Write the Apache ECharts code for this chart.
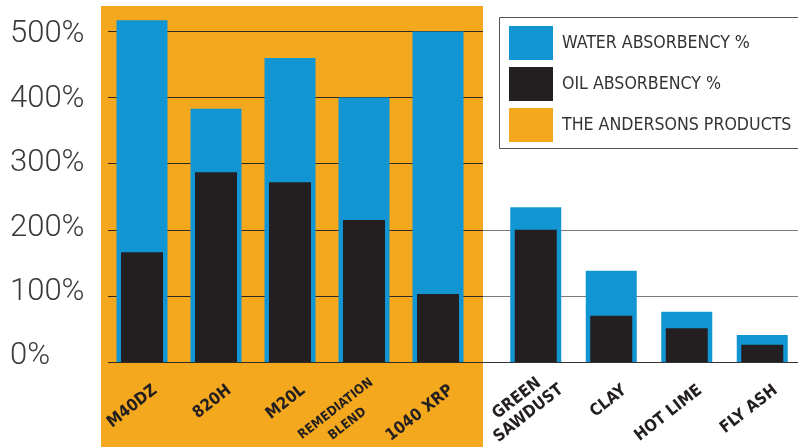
<!DOCTYPE html>
<html><head><meta charset="utf-8">
<script src="https://cdn.jsdelivr.net/npm/echarts@6/dist/echarts.min.js"></script>
<style>html,body{margin:0;padding:0;background:#fff}#c{width:798px;height:447px}</style>
</head><body><div id="c"></div>
<script>
// ---- data ----
const andersonsProducts = ['M40DZ', '820H', 'M20L', 'REMEDIATION\nBLEND', '1040 XRP'];
const otherMaterials = ['GREEN\nSAWDUST', 'CLAY', 'HOT LIME', 'FLY ASH'];
const waterAndersons = [517, 383, 460, 400, 500];
const oilAndersons = [166, 287, 272, 215, 103];
const waterOther = [234, 138, 76, 41];
const oilOther = [200, 70, 51, 26];
const yTickMax = 500;
const yTickStep = 100;
const seriesNames = ['WATER ABSORBENCY %', 'OIL ABSORBENCY %', 'THE ANDERSONS PRODUCTS'];

// ---- styles ----
const ORANGE = '#F4A81E', BLUE = '#1296D3', BLACK = '#231F20';
const TOP = 31.5, H = 330.5;
const NARROW = '"DejaVu Sans Condensed","Liberation Sans Narrow","Liberation Sans",sans-serif';

function catLabel() {
  return {
    show: true, interval: 0, rotate: 38, margin: 37,
    fontFamily: NARROW, fontWeight: 'bold', fontSize: 16.5, color: BLACK,
    lineHeight: 19, padding: [0, -17, 0, 0],
    formatter: function (v) {
      const lines = v.split('\n');
      const sty = lines.length > 1 && lines[0].length > 8 ? 's' : 'c';
      return lines.map(function (l) { return '{' + sty + '|' + l + '}'; }).join('\n');
    },
    rich: {
      c: { align: 'center' },
      s: { align: 'center', fontSize: 13, lineHeight: 19 }
    }
  };
}
function catData(list, special) {
  return list.map(function (v, i) {
    return special && special[i] ? { value: v, textStyle: special[i] } : v;
  });
}

// y tick labels: slight vertical nudges to match the original typesetting
const yRich = {};
for (let v = 0; v <= yTickMax; v += yTickStep) {
  const s = Math.round(6 - v * 0.019);
  yRich['t' + v] = { padding: s >= 0 ? [0, 0, s * 2, 0] : [-s * 2, 0, 0, 0] };
}

const hiddenX = function (g, data) { return { gridIndex: g, type: 'category', show: false, data: data || [] }; };
const hiddenY = function (g) { return { gridIndex: g, type: 'value', show: false, min: 0, max: yTickMax, interval: yTickStep }; };

const chart = echarts.init(document.getElementById('c'));
const option = {
  animation: false,
  backgroundColor: '#fff',
  grid: [
    { left: 101, top: 6, width: 382, bottom: 0, show: true, backgroundColor: ORANGE, borderWidth: 0, outerBoundsMode: 'none' },
    { left: 108, top: TOP, width: 375, height: H, outerBoundsMode: 'none' },
    { left: 483, top: TOP, right: 0, height: H, outerBoundsMode: 'none' },
    { left: 105, top: TOP, width: 370, height: H, outerBoundsMode: 'none' },
    { left: 498, top: TOP, width: 302, height: H, outerBoundsMode: 'none' },
    // frame around the legend (runs off the right edge like the original)
    { left: 499.5, top: 17.5, width: 340, height: 131, show: true, backgroundColor: 'rgba(0,0,0,0)', borderColor: '#555', borderWidth: 1, outerBoundsMode: 'none', z: 1 }
  ],
  xAxis: [
    hiddenX(0), hiddenX(1), hiddenX(2),
    { gridIndex: 3, type: 'category', data: catData(andersonsProducts), axisLine: { show: false }, axisTick: { show: false }, axisLabel: catLabel() },
    hiddenX(3, andersonsProducts),
    { gridIndex: 4, type: 'category', data: catData(otherMaterials, [{ padding: [0, -27, 5, 0] }]), axisLine: { show: false }, axisTick: { show: false }, axisLabel: catLabel() },
    hiddenX(4, otherMaterials),
    hiddenX(5)
  ],
  yAxis: [
    hiddenY(0),
    {
      gridIndex: 1, type: 'value', min: 0, max: yTickMax, interval: yTickStep,
      axisLine: { show: false }, axisTick: { show: false },
      splitLine: { show: true, lineStyle: { color: '#2e2a24', width: 1.2 } },
      axisLabel: {
        show: true, align: 'left', margin: 98, fontSize: 31, fontFamily: 'Roboto,"Liberation Sans",sans-serif', fontWeight: 300, color: '#3a3a3a',
        formatter: function (v) { return '{t' + v + '|' + v + '%}'; },
        rich: yRich
      }
    },
    {
      gridIndex: 2, type: 'value', min: 0, max: yTickMax, interval: yTickStep,
      axisLine: { show: false }, axisTick: { show: false }, axisLabel: { show: false },
      splitLine: { show: true, lineStyle: { color: ['#333333', '#7a7a7a', '#7a7a7a', 'rgba(0,0,0,0)', 'rgba(0,0,0,0)', 'rgba(0,0,0,0)'], width: 1.2 } }
    },
    hiddenY(3), hiddenY(4), hiddenY(5)
  ],
  legend: {
    orient: 'vertical', left: 499, top: 17,
    padding: [9, 12, 7, 10], itemWidth: 44, itemHeight: 34, itemGap: 7,
    borderWidth: 0, icon: 'rect',
    textStyle: { fontFamily: NARROW, fontSize: 17.6, color: '#333', padding: [0, 0, 0, 4] },
    data: seriesNames.map(function (n) { return { name: n, icon: 'rect' }; })
  },
  series: [
    { name: seriesNames[0], type: 'bar', xAxisIndex: 3, yAxisIndex: 3, data: waterAndersons, barWidth: 51, itemStyle: { color: BLUE }, clip: false, z: 2 },
    { name: seriesNames[1], type: 'bar', xAxisIndex: 4, yAxisIndex: 3, data: oilAndersons, barWidth: 42, itemStyle: { color: BLACK }, clip: false, z: 3 },
    { name: seriesNames[0], type: 'bar', xAxisIndex: 5, yAxisIndex: 4, data: waterOther, barWidth: 51, itemStyle: { color: BLUE }, clip: false, z: 2 },
    { name: seriesNames[1], type: 'bar', xAxisIndex: 6, yAxisIndex: 4, data: oilOther, barWidth: 42, itemStyle: { color: BLACK }, clip: false, z: 3 },
    { name: seriesNames[2], type: 'bar', xAxisIndex: 0, yAxisIndex: 0, data: [], itemStyle: { color: ORANGE } }
  ]
};
chart.setOption(option);
</script>
</body></html>
